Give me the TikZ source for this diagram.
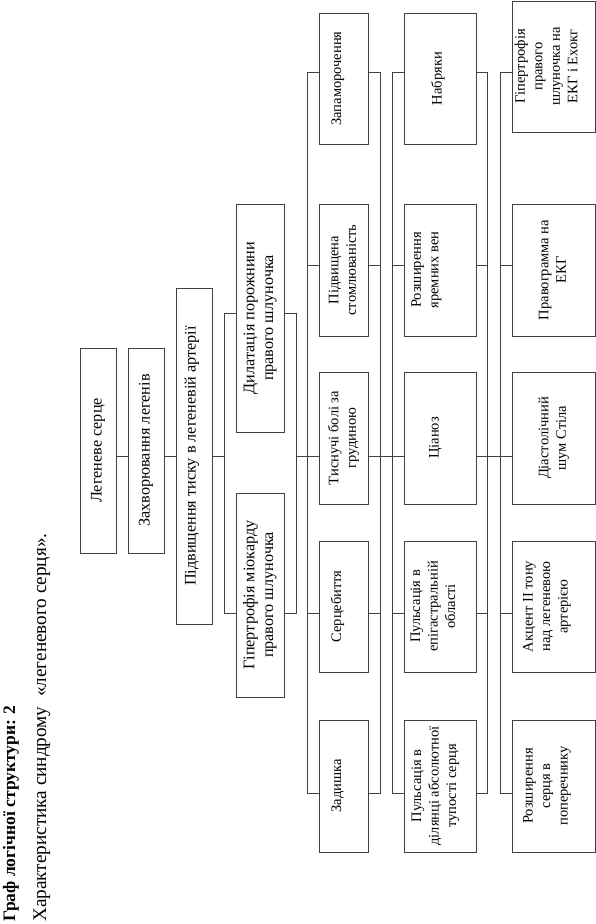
\documentclass[tikz,border=0pt]{standalone}
\usepackage{fontspec}
\setmainfont{Liberation Serif}
\usepackage{graphicx}
\definecolor{lc}{gray}{0.25}
\newcommand{\vt}[1]{\rotatebox{90}{\renewcommand{\arraystretch}{1}\setlength{\tabcolsep}{0pt}\begin{tabular}{c}#1\end{tabular}}}
\newcommand{\vtup}[2]{\rotatebox{90}{\raisebox{#1}[\height][\depth]{\renewcommand{\arraystretch}{1}\setlength{\tabcolsep}{0pt}\begin{tabular}{c}#2\end{tabular}}}}
\tikzset{
  box/.style={draw=lc, line width=0.9pt, inner sep=0pt, rectangle},
  bigbox/.style={box, font=\fontsize{16.2}{18.6}\selectfont},
  smallbox/.style={box, font=\fontsize{14.5}{17.5}\selectfont},
  wire/.style={draw=lc, line width=0.9pt},
}
\begin{document}
\begin{tikzpicture}[x=1pt,y=-1pt]
\useasboundingbox (0,0) rectangle (596,924);
% titles
\node[rotate=90, anchor=base west, inner sep=0pt, font=\bfseries\fontsize{17.5}{21}\selectfont] (title) at (15,922) {Граф логічної структури: 2};
\node[rotate=90, anchor=base west, inner sep=0pt, font=\fontsize{19.2}{22}\selectfont] (subtitle) at (46,922) {Характеристика синдрому\ \ «легеневого серця».};
% main chain
\node[bigbox, minimum width=36pt, minimum height=205pt] (n1) at (98,450.5) {\vt{Легеневе серце}};
\node[bigbox, minimum width=36pt, minimum height=205pt] (n2) at (146,450.5) {\vt{Захворювання легенів}};
\node[bigbox, minimum width=36pt, minimum height=336pt] (n3) at (194,456) {\vtup{2pt}{Підвищення тиску в легеневій артерії}};
\node[bigbox, minimum width=48pt, minimum height=228pt] (n4) at (260,318) {\vt{Дилатація порожнини\\правого шлуночка}};
\node[bigbox, minimum width=48pt, minimum height=204pt] (n5) at (260,595) {\vt{Гіпертрофія міокарду\\правого шлуночка}};
% column 3
\node[smallbox, minimum width=49pt, minimum height=131pt] (c3a) at (343.5,78.5) {\vtup{6pt}{Запаморочення}};
\node[smallbox, minimum width=49pt, minimum height=132pt] (c3b) at (343.5,270) {\vt{Підвищена\\стомлюваність}};
\node[smallbox, minimum width=49pt, minimum height=132pt] (c3c) at (343.5,438) {\vt{Тиснучі болі за\\грудиною}};
\node[smallbox, minimum width=49pt, minimum height=131pt] (c3d) at (343.5,606.5) {\vtup{6pt}{Серцебиття}};
\node[smallbox, minimum width=49pt, minimum height=132pt] (c3e) at (343.5,786) {\vtup{6pt}{Задишка}};
% column 4
\node[smallbox, minimum width=72pt, minimum height=131pt] (c4a) at (440,78.5) {\vtup{2pt}{Набряки}};
\node[smallbox, minimum width=72pt, minimum height=132pt] (c4b) at (440,270) {\vtup{14pt}{Розширення\\яремних вен}};
\node[smallbox, minimum width=72pt, minimum height=132pt] (c4c) at (440,438) {\vtup{5pt}{Ціаноз}};
\node[smallbox, minimum width=72pt, minimum height=131pt] (c4d) at (440,606.5) {\vtup{6pt}{Пульсація в\\епігастральній\\області}};
\node[smallbox, minimum width=72pt, minimum height=132pt] (c4e) at (440,786) {\vtup{5pt}{Пульсація в\\ділянці абсолютної\\тупості серця}};
% column 5
\node[smallbox, minimum width=83pt, minimum height=131pt] (c5a) at (553.5,66.5) {\vtup{6pt}{Гіпертрофія\\правого\\шлуночка на\\ЕКГ і Ехокг}};
\node[smallbox, minimum width=83pt, minimum height=132pt] (c5b) at (553.5,270) {\vt{Правограмма на\\ЕКГ}};
\node[smallbox, minimum width=83pt, minimum height=132pt] (c5c) at (553.5,438) {\vt{Діастолічний\\шум Стіла}};
\node[smallbox, minimum width=83pt, minimum height=131pt] (c5d) at (553.5,606.5) {\vtup{7pt}{Акцент II тону\\над легеневою\\артерією}};
\node[smallbox, minimum width=83pt, minimum height=132pt] (c5e) at (553.5,786) {\vtup{7pt}{Розширення\\серця в\\поперечнику}};
% helper coordinates
\coordinate (R1) at (0,72);
\coordinate (R2) at (0,265);
\coordinate (R3) at (0,456);
\coordinate (R4) at (0,613);
\coordinate (R5) at (0,793);
\coordinate (RB) at (0,313);
\coordinate (V1) at (224,0);
\coordinate (V2) at (296,0);
\coordinate (V3L) at (307,0);
\coordinate (V3R) at (380,0);
\coordinate (V4L) at (392,0);
\coordinate (V4R) at (487,0);
\coordinate (V5L) at (500,0);
% chain connectors
\draw[wire] (n1.east |- R3) -- (n2.west |- R3);
\draw[wire] (n2.east |- R3) -- (n3.west |- R3);
\draw[wire] (n3.east |- R3) -- (V1 |- R3);
\draw[wire] (n4.west |- RB) -| (V1 |- R4) -- (n5.west |- R4);
\draw[wire] (n4.east |- RB) -| (V2 |- R4) -- (n5.east |- R4);
\draw[wire] (V2 |- R3) -- (c3c.west |- R3);
% column 3 brackets
\draw[wire] (c3a.west |- R1) -| (V3L |- R5) -- (c3e.west |- R5);
\draw[wire] (V3L |- R2) -- (c3b.west |- R2);
\draw[wire] (V3L |- R4) -- (c3d.west |- R4);
\draw[wire] (c3a.east |- R1) -| (V3R |- R5) -- (c3e.east |- R5);
\draw[wire] (V3R |- R2) -- (c3b.east |- R2);
\draw[wire] (V3R |- R4) -- (c3d.east |- R4);
\draw[wire] (c3c.east |- R3) -- (c4c.west |- R3);
% column 4 brackets
\draw[wire] (c4a.west |- R1) -| (V4L |- R5) -- (c4e.west |- R5);
\draw[wire] (V4L |- R2) -- (c4b.west |- R2);
\draw[wire] (V4L |- R4) -- (c4d.west |- R4);
\draw[wire] (c4a.east |- R1) -| (V4R |- R5) -- (c4e.east |- R5);
\draw[wire] (V4R |- R2) -- (c4b.east |- R2);
\draw[wire] (V4R |- R4) -- (c4d.east |- R4);
\draw[wire] (c4c.east |- R3) -- (c5c.west |- R3);
% column 5 bracket
\draw[wire] (c5a.west |- R1) -| (V5L |- R5) -- (c5e.west |- R5);
\draw[wire] (V5L |- R2) -- (c5b.west |- R2);
\draw[wire] (V5L |- R4) -- (c5d.west |- R4);
\end{tikzpicture}
\end{document}
